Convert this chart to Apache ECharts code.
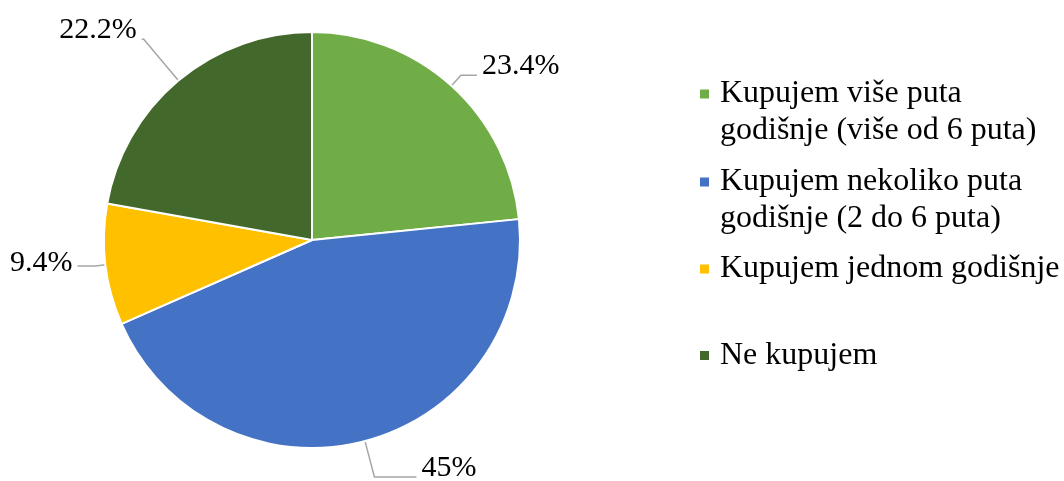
<!DOCTYPE html>
<html>
<head>
<meta charset="utf-8">
<script src="https://cdn.jsdelivr.net/npm/echarts@6/dist/echarts.min.js"></script>
<style>
  html, body { margin: 0; padding: 0; background: #fff; }
  #chart { width: 1064px; height: 481px; }
</style>
</head>
<body>
<div id="chart"></div>
<script>
// kategorije i vrijednosti (%)
const categories = [
  "Kupujem više puta godišnje (više od 6 puta)",
  "Kupujem nekoliko puta godišnje (2 do 6 puta)",
  "Kupujem jednom godišnje",
  "Ne kupujem",
];
const legendText = [
  "Kupujem više puta\ngodišnje (više od 6 puta)",
  "Kupujem nekoliko puta\ngodišnje (2 do 6 puta)",
  "Kupujem jednom godišnje",
  "Ne kupujem",
];
const values = [23.4, 45, 9.4, 22.2];
const colors = ["#70ad47", "#4472c4", "#ffc000", "#43682b"];

// duzina linija do oznaka, po kriski
const lineLen = [14, 37, 10, 54];
const lineLen2 = [16, 42, 18, 2];
// visina praznog reda ispod oznake (podize tekst iznad linije)
const labelLift = [18, 18, 6, 18];

// pozicija legende (vrh svake stavke)
const legendTop = [38.5, 126.5, 250.5, 337];

const font = "'Liberation Serif', 'Times New Roman', serif";

const chart = echarts.init(document.getElementById("chart"));

const legends = categories.map((name, i) => {
  const twoLines = legendText[i].indexOf("\n") >= 0;
  return {
    data: [name],
    left: 698,
    top: legendTop[i],
    padding: 0,
    icon: "rect",
    itemWidth: 11,
    itemHeight: 11,
    selectedMode: false,
    // prazan red na vrhu da kvadratic stoji uz prvi red teksta
    formatter: () => (twoLines ? "\n" : "") + legendText[i],
    textStyle: {
      fontFamily: font,
      fontSize: 32,
      color: "#000",
      lineHeight: 37,
      padding: [0, 0, 0, 5],
    },
  };
});

chart.setOption({
  animation: false,
  color: colors,
  legend: legends,
  series: [
    {
      type: "pie",
      left: -60,
      top: -60,
      right: -60,
      bottom: -60,
      center: [372, 300],
      radius: 208,
      startAngle: 90,
      clockwise: true,
      itemStyle: {
        borderColor: "#fff",
        borderWidth: 2,
      },
      label: {
        show: true,
        position: "outside",
        formatter: "{c}%\n",
        fontFamily: font,
        fontSize: 30,
        color: "#000",
        distanceToLabelLine: 5,
      },
      labelLine: {
        lineStyle: { color: "#a6a6a6", width: 1.5 },
      },
      emphasis: { disabled: true },
      data: categories.map((name, i) => ({
        name: name,
        value: values[i],
        label: { lineHeight: labelLift[i] },
        labelLine: { length: lineLen[i], length2: lineLen2[i] },
      })),
    },
  ],
});
</script>
</body>
</html>
